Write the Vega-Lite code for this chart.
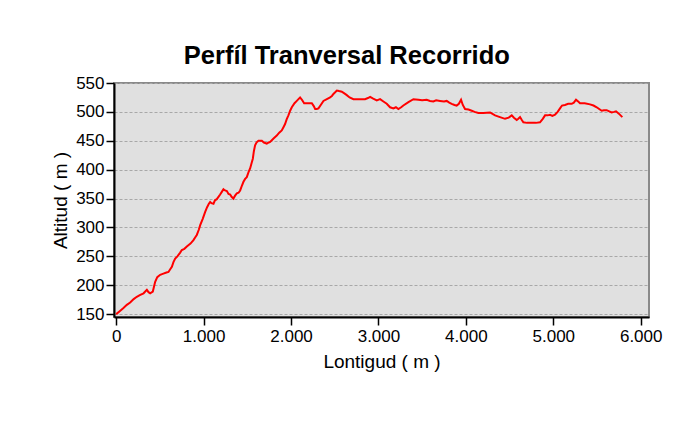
{
  "$schema": "https://vega.github.io/schema/vega-lite/v6.json",
  "width": 535,
  "height": 234,
  "autosize": {"type": "none"},
  "padding": {"left": 114, "top": 83, "right": 34, "bottom": 111},
  "background": "white",
  "title": {
    "text": "Perfíl Tranversal Recorrido",
    "font": "Liberation Sans",
    "fontSize": 25.5,
    "fontWeight": "bold",
    "color": "black",
    "anchor": "middle",
    "frame": "bounds",
    "offset": 5,
    "dx": -10
  },
  "config": {
    "view": {"fill": "#e0e0e0", "stroke": "#8a8a8a", "strokeWidth": 2},
    "axis": {
      "labelFont": "Liberation Sans",
      "titleFont": "Liberation Sans",
      "labelFontSize": 17,
      "titleFontSize": 19,
      "titleFontWeight": "normal",
      "labelColor": "black",
      "titleColor": "black",
      "domainColor": "black",
      "domainWidth": 2,
      "tickColor": "black",
      "tickWidth": 1.5
    }
  },
  "data": {
    "values": [
      {"d":0,"h":150},{"d":40,"h":155},{"d":80,"h":160},{"d":122,"h":166},{"d":160,"h":170},{"d":200,"h":176},{"d":236,"h":180},{"d":270,"h":183},{"d":313,"h":186},{"d":351,"h":192},{"d":370,"h":188},{"d":389,"h":186},{"d":419,"h":189},{"d":446,"h":206},{"d":470,"h":214},{"d":503,"h":218},{"d":540,"h":220},{"d":575,"h":222},{"d":598,"h":223},{"d":620,"h":228},{"d":637,"h":232},{"d":655,"h":240},{"d":675,"h":246},{"d":700,"h":250},{"d":730,"h":256},{"d":751,"h":261},{"d":780,"h":263},{"d":808,"h":267},{"d":850,"h":272},{"d":884,"h":278},{"d":905,"h":283},{"d":922,"h":287},{"d":945,"h":296},{"d":961,"h":304},{"d":990,"h":315},{"d":1018,"h":327},{"d":1040,"h":335},{"d":1060,"h":341},{"d":1075,"h":344},{"d":1090,"h":342},{"d":1113,"h":341},{"d":1130,"h":347},{"d":1151,"h":349},{"d":1170,"h":353},{"d":1189,"h":357},{"d":1210,"h":362},{"d":1227,"h":366},{"d":1245,"h":364},{"d":1266,"h":363},{"d":1285,"h":358},{"d":1304,"h":357},{"d":1320,"h":353},{"d":1341,"h":350},{"d":1360,"h":355},{"d":1380,"h":359},{"d":1400,"h":360},{"d":1418,"h":364},{"d":1440,"h":373},{"d":1456,"h":379},{"d":1475,"h":384},{"d":1494,"h":387},{"d":1515,"h":396},{"d":1532,"h":402},{"d":1550,"h":412},{"d":1563,"h":419},{"d":1575,"h":432},{"d":1589,"h":442},{"d":1605,"h":447},{"d":1627,"h":450},{"d":1645,"h":450},{"d":1666,"h":450},{"d":1690,"h":447},{"d":1723,"h":445},{"d":1745,"h":447},{"d":1761,"h":448},{"d":1800,"h":454},{"d":1837,"h":459},{"d":1865,"h":464},{"d":1894,"h":468},{"d":1915,"h":474},{"d":1932,"h":479},{"d":1950,"h":487},{"d":1970,"h":494},{"d":1990,"h":502},{"d":2009,"h":508},{"d":2040,"h":515},{"d":2066,"h":519},{"d":2085,"h":522},{"d":2104,"h":525},{"d":2125,"h":521},{"d":2150,"h":515},{"d":2200,"h":515},{"d":2238,"h":515},{"d":2260,"h":510},{"d":2276,"h":505},{"d":2295,"h":505},{"d":2314,"h":506},{"d":2340,"h":512},{"d":2371,"h":519},{"d":2410,"h":522},{"d":2447,"h":525},{"d":2470,"h":528},{"d":2485,"h":531},{"d":2505,"h":534},{"d":2524,"h":537},{"d":2550,"h":536},{"d":2581,"h":535},{"d":2610,"h":532},{"d":2638,"h":529},{"d":2670,"h":525},{"d":2714,"h":522},{"d":2780,"h":522},{"d":2847,"h":522},{"d":2880,"h":524},{"d":2905,"h":526},{"d":2940,"h":523},{"d":2981,"h":520},{"d":3019,"h":522},{"d":3057,"h":518},{"d":3095,"h":514},{"d":3133,"h":508},{"d":3171,"h":506},{"d":3200,"h":508},{"d":3228,"h":505},{"d":3260,"h":508},{"d":3285,"h":511},{"d":3343,"h":517},{"d":3400,"h":522},{"d":3457,"h":521},{"d":3500,"h":520},{"d":3552,"h":521},{"d":3590,"h":519},{"d":3628,"h":518},{"d":3660,"h":520},{"d":3705,"h":519},{"d":3750,"h":518},{"d":3781,"h":519},{"d":3810,"h":516},{"d":3838,"h":514},{"d":3870,"h":512},{"d":3895,"h":511},{"d":3920,"h":514},{"d":3945,"h":521},{"d":3965,"h":512},{"d":3991,"h":505},{"d":4030,"h":504},{"d":4067,"h":502},{"d":4100,"h":500},{"d":4143,"h":498},{"d":4200,"h":498},{"d":4277,"h":499},{"d":4300,"h":497},{"d":4334,"h":494},{"d":4390,"h":491},{"d":4448,"h":488},{"d":4490,"h":490},{"d":4525,"h":494},{"d":4550,"h":490},{"d":4582,"h":486},{"d":4600,"h":488},{"d":4620,"h":491},{"d":4640,"h":486},{"d":4658,"h":482},{"d":4700,"h":481},{"d":4734,"h":481},{"d":4800,"h":481},{"d":4848,"h":482},{"d":4880,"h":488},{"d":4906,"h":494},{"d":4935,"h":494},{"d":4963,"h":495},{"d":4990,"h":493},{"d":5020,"h":495},{"d":5050,"h":500},{"d":5077,"h":506},{"d":5100,"h":511},{"d":5134,"h":512},{"d":5170,"h":514},{"d":5211,"h":514},{"d":5235,"h":516},{"d":5260,"h":521},{"d":5285,"h":518},{"d":5306,"h":515},{"d":5360,"h":515},{"d":5420,"h":513},{"d":5460,"h":511},{"d":5497,"h":508},{"d":5525,"h":505},{"d":5554,"h":502},{"d":5580,"h":503},{"d":5611,"h":503},{"d":5640,"h":501},{"d":5668,"h":499},{"d":5695,"h":500},{"d":5718,"h":501},{"d":5750,"h":497},{"d":5790,"h":491}
    ]
  },
  "mark": {"type": "line", "color": "#ff0000", "strokeWidth": 2},
  "encoding": {
    "x": {
      "field": "d",
      "type": "quantitative",
      "scale": {"domain": [-25, 6095], "nice": false, "zero": false},
      "axis": {
        "title": "Lontigud ( m )",
        "values": [0, 1000, 2000, 3000, 4000, 5000, 6000],
        "labelExpr": "replace(format(datum.value, ','), ',', '.')",
        "grid": false,
        "tickSize": 8,
        "labelPadding": 3,
        "titlePadding": 8
      }
    },
    "y": {
      "field": "h",
      "type": "quantitative",
      "scale": {"domain": [145, 550], "nice": false, "zero": false},
      "axis": {
        "title": "Altitud ( m )",
        "values": [150, 200, 250, 300, 350, 400, 450, 500, 550],
        "grid": true,
        "gridColor": "#a8a8a8",
        "gridDash": [3, 2],
        "gridWidth": 1,
        "tickSize": 8,
        "labelPadding": 2,
        "titlePadding": 5
      }
    }
  }
}
